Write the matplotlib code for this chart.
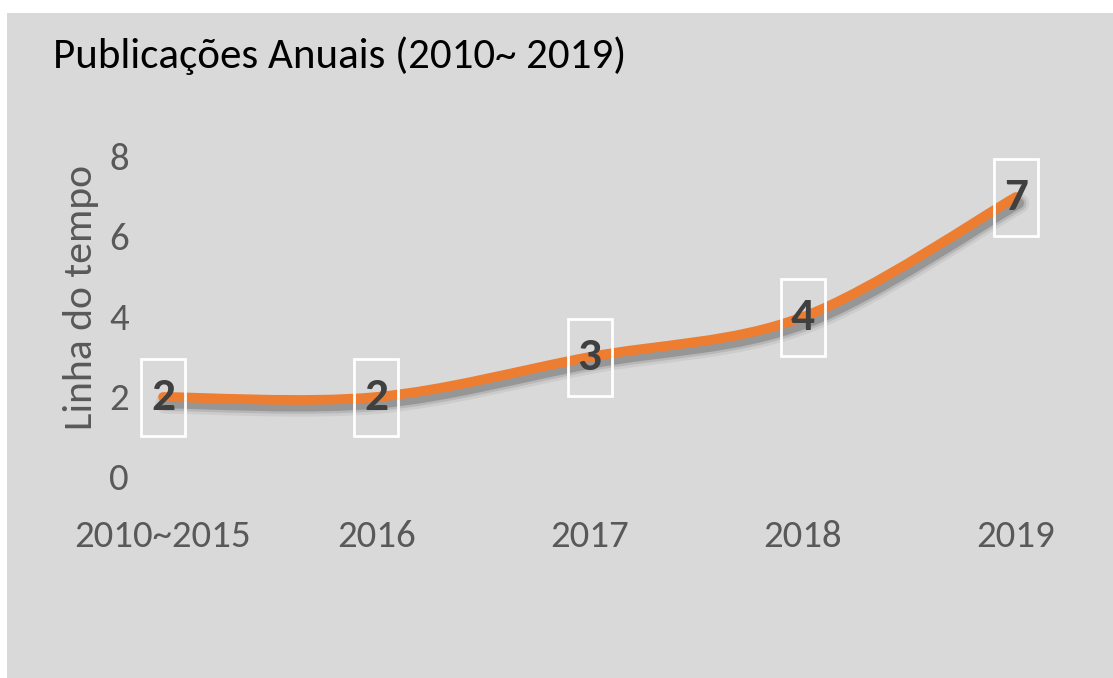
import matplotlib
matplotlib.use("Agg")
import matplotlib.pyplot as plt
import matplotlib.patheffects as pe
from matplotlib.patches import Rectangle, PathPatch
from matplotlib.path import Path
from matplotlib.transforms import ScaledTranslation

# data
categories = ["2010~2015", "2016", "2017", "2018", "2019"]
values = [2, 2, 3, 4, 7]
y_ticks = [0, 2, 4, 6, 8]
title = "Publicações Anuais (2010~ 2019)"
y_label = "Linha do tempo"

font = ["Carlito", "DejaVu Sans"]
bg = "#d9d9d9"

W, H = 1113, 678
fig = plt.figure(figsize=(W / 100, H / 100), dpi=100)
fig.patch.set_facecolor("white")
fig.patches.append(Rectangle((7 / W, 0), 1 - 7 / W, 1 - 13 / H,
                             transform=fig.transFigure, facecolor=bg,
                             edgecolor="none", zorder=-10))

# axes placed so that category 0 sits at x=163px and step is ~213px
left_px, right_px = 140, 1090
x0_px, step_px = 163, 213.25
ax = fig.add_axes([left_px / W, (H - 477) / H, (right_px - left_px) / W, 320 / H])
ax.set_facecolor("none")
ax.set_xlim((left_px - x0_px) / step_px, (right_px - x0_px) / step_px)
ax.set_ylim(0, 8)
for s in ax.spines.values():
    s.set_visible(False)

xs = list(range(len(categories)))
ax.set_xticks(xs)
ax.set_xticklabels(categories, family=font, fontsize=28, color="#595959")
ax.set_yticks(y_ticks)
ax.set_yticklabels([str(t) for t in y_ticks], family=font, fontsize=28, color="#595959")
ax.tick_params(axis="both", length=0)
ax.tick_params(axis="x", pad=31)
ax.tick_params(axis="y", pad=8)

ax.set_ylabel(y_label, fontsize=30, color="#595959", family=font)
ax.yaxis.set_label_coords(-0.043, 0.5625)

fig.text(53 / W, 1 - 68 / H, title, family=font, fontsize=31, color="black",
         ha="left", va="baseline")

# smoothed line (Excel-style bezier through the points)
pts = list(zip(xs, values))
verts = [pts[0]]
codes = [Path.MOVETO]
for i in range(len(pts) - 1):
    p_prev = pts[i - 1] if i > 0 else pts[i]
    p0, p1 = pts[i], pts[i + 1]
    p_next = pts[i + 2] if i + 2 < len(pts) else pts[i + 1]
    c1 = (p0[0] + (p1[0] - p_prev[0]) / 6, p0[1] + (p1[1] - p_prev[1]) / 6)
    c2 = (p1[0] - (p_next[0] - p0[0]) / 6, p1[1] - (p_next[1] - p0[1]) / 6)
    verts += [c1, c2, p1]
    codes += [Path.CURVE4] * 3

shadow = [pe.SimpleLineShadow(offset=(2, -4.5), shadow_color="black", alpha=a, linewidth=w)
          for a, w in [(0.06, 15), (0.1, 11), (0.18, 7.5)]]
curve = PathPatch(Path(verts, codes), facecolor="none", edgecolor="#ed7d31",
                  linewidth=7, capstyle="round", joinstyle="round", zorder=3,
                  path_effects=shadow + [pe.Normal()])
ax.add_patch(curve)

# data labels with white frames
for x, v in zip(xs, values):
    off = ScaledTranslation(x, v, ax.transData)
    ax.add_patch(Rectangle((-0.22, -0.385), 0.44, 0.77, transform=fig.dpi_scale_trans + off,
                           facecolor="none", edgecolor="white", linewidth=2,
                           zorder=4, clip_on=False))
    ax.text(x, v, str(v), family=font, fontsize=34, fontweight="bold", color="#404040",
            ha="center", va="center", zorder=5)

fig.savefig("out.png", dpi=100, facecolor=fig.get_facecolor())
